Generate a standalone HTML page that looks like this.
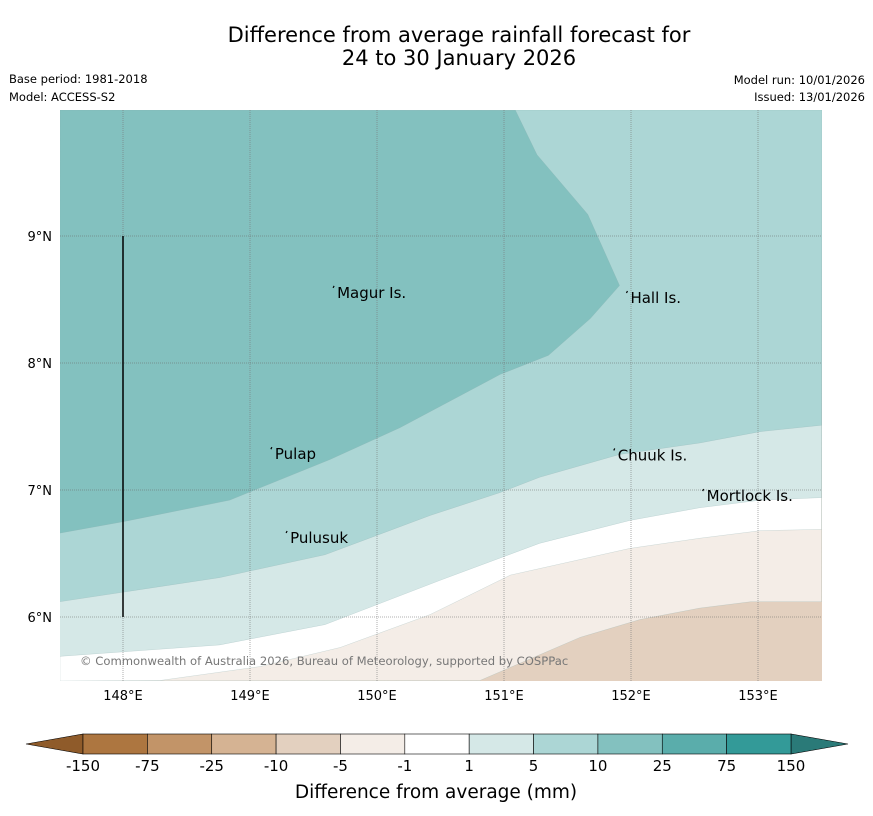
<!DOCTYPE html>
<html><head><meta charset="utf-8"><style>
body{margin:0;background:#fff;width:873px;height:816px;overflow:hidden;font-family:"DejaVu Sans","Liberation Sans",sans-serif}
svg{display:block}
</style></head><body>
<svg id="chart" width="873" height="816">
<text x="459" y="42" font-size="21" text-anchor="middle" fill="#000">Difference from average rainfall forecast for</text>
<text x="459" y="65" font-size="21" text-anchor="middle" fill="#000">24 to 30 January 2026</text>
<text x="9" y="83" font-size="11.5">Base period: 1981-2018</text>
<text x="9" y="101" font-size="11.5">Model: ACCESS-S2</text>
<text x="865" y="84" font-size="11.5" text-anchor="end">Model run: 10/01/2026</text>
<text x="865" y="101" font-size="11.5" text-anchor="end">Issued: 13/01/2026</text>
<g id="map"></g>
<g id="cbar"></g>
<text x="436" y="798" font-size="18.5" text-anchor="middle">Difference from average (mm)</text>
</svg>
<script>
const lonTicks=[148,149,150,151,152,153];
const latTicks=[6,7,8,9];
const levelLabels=["-150","-75","-25","-10","-5","-1","1","5","10","25","75","150"];
const levelColors=["#ad7640","#c29468","#d5b393","#e3d0bf","#f4ede7","#ffffff","#d5e8e7","#acd6d5","#83c1bf","#5aadab","#339a98"];
// contour boundaries [lon,lat]
const boundE=[[150.81,5.5],[151.60,5.84],[152.07,5.98],[152.54,6.07],[152.94,6.12],[153.5,6.12]];
const boundD=[[148.29,5.5],[149.08,5.61],[149.71,5.76],[150.42,6.02],[151.05,6.33],[151.99,6.54],[152.54,6.62],[153.02,6.68],[153.5,6.69]];
const boundC=[[147.5,5.69],[148.76,5.78],[149.59,5.94],[150.50,6.29],[151.28,6.58],[151.99,6.76],[152.54,6.86],[153.02,6.92],[153.5,6.94]];
const boundB=[[147.5,6.12],[148.76,6.31],[149.59,6.49],[150.42,6.80],[150.97,6.98],[151.28,7.10],[151.91,7.28],[152.54,7.37],[153.02,7.46],[153.5,7.51]];
const boundA=[[147.5,6.66],[148.0,6.75],[148.84,6.92],[149.63,7.24],[150.18,7.49],[150.97,7.91],[151.35,8.06],[151.68,8.35],[151.91,8.61],[151.66,9.17],[151.26,9.64],[151.09,9.99]];
const places=[["Magur Is.",149.67,8.56],["Hall Is.",151.98,8.52],["Pulap",149.18,7.29],["Chuuk Is.",151.88,7.28],["Pulusuk",149.30,6.63],["Mortlock Is.",152.58,6.96]];
const NS="http://www.w3.org/2000/svg";
const L=60,R=822,T=110,B=681;
const xS=lon=>123+(lon-148)*127;
const yS=lat=>236-(lat-9)*127;
const map=document.getElementById('map');
function el(tag,attrs,parent){const e=document.createElementNS(NS,tag);for(const k in attrs)e.setAttribute(k,attrs[k]);parent.appendChild(e);return e;}
const defs=el('defs',{},map);const cp=el('clipPath',{id:'clip'},defs);el('rect',{x:L,y:T,width:R-L,height:B-T},cp);
const g=el('g',{'clip-path':'url(#clip)'},map);
const bg=el('rect',{x:L,y:T,width:R-L,height:B-T,fill:levelColors[3]},g);


function region(pts,extra,color,name){
  const p=pts.map(q=>xS(q[0])+','+yS(q[1])).concat(extra.map(q=>q[0]+','+q[1])).join(' ');
  const e=el('polygon',{points:p,fill:color,stroke:'#8aa',"stroke-width":0.4,"stroke-opacity":0.5},g);
  
  
}
region(boundE,[[R,T],[L,T],[L,B]],levelColors[4],'region-minus5-minus1');
region(boundD,[[R,T],[L,T],[L,B]],levelColors[5],'region-minus1-1');
region(boundC,[[R,T],[L,T]],levelColors[6],'region-1-5');
region(boundB,[[R,T],[L,T]],levelColors[7],'region-5-10');
region(boundA,[[L,T]],levelColors[8],'region-10-25');
lonTicks.forEach(lon=>{const x=xS(lon);
  const l=el('line',{x1:x,y1:T,x2:x,y2:B,stroke:'#777','stroke-width':0.6,'stroke-dasharray':'1,1'},map);
  
  const t=el('text',{x:x,y:700,'font-size':13,'text-anchor':'middle'},map);t.textContent=lon+'°E';
  });
latTicks.forEach(lat=>{const y=yS(lat);
  const l=el('line',{x1:L,y1:y,x2:R,y2:y,stroke:'#666','stroke-width':0.6,'stroke-dasharray':'1,1'},map);
  
  const t=el('text',{x:52,y:y+5,'font-size':13,'text-anchor':'end'},map);t.textContent=lat+'°N';
  });
const vl=el('line',{x1:xS(148),y1:yS(9),x2:xS(148),y2:yS(6),stroke:'#000','stroke-width':1.5},map);

places.forEach(p=>{const x=xS(p[1]),y=yS(p[2]);
  const t=el('text',{x:x+2,y:y+6,'font-size':15},map);t.textContent=p[0];
  
  const m=el('path',{d:`M${x-2} ${y-4} l1 -2`,stroke:'#000','stroke-width':1.2},map);
  });
const ch=el('text',{x:80,y:665,'font-size':11.6,fill:'#777'},map);ch.textContent='© Commonwealth of Australia 2026, Bureau of Meteorology, supported by COSPPac';

// colorbar
const cb=document.getElementById('cbar');
const x0=83,x1=791,y0=734,y1=754,w=(x1-x0)/levelColors.length;
el('polygon',{points:`26,744 ${x0},${y0} ${x0},${y1}`,fill:'#8f5b2a',stroke:'#000','stroke-width':0.6},cb);
el('polygon',{points:`848,744 ${x1},${y0} ${x1},${y1}`,fill:'#2a7a78',stroke:'#000','stroke-width':0.6},cb);
levelColors.forEach((c,i)=>{const r=el('rect',{x:x0+i*w,y:y0,width:w,height:y1-y0,fill:c,stroke:'#000','stroke-width':0.6},cb);
  });
levelLabels.forEach((s,i)=>{const t=el('text',{x:x0+i*w,y:771,'font-size':15,'text-anchor':'middle'},cb);t.textContent=s;
  });
</script>
</body></html>
